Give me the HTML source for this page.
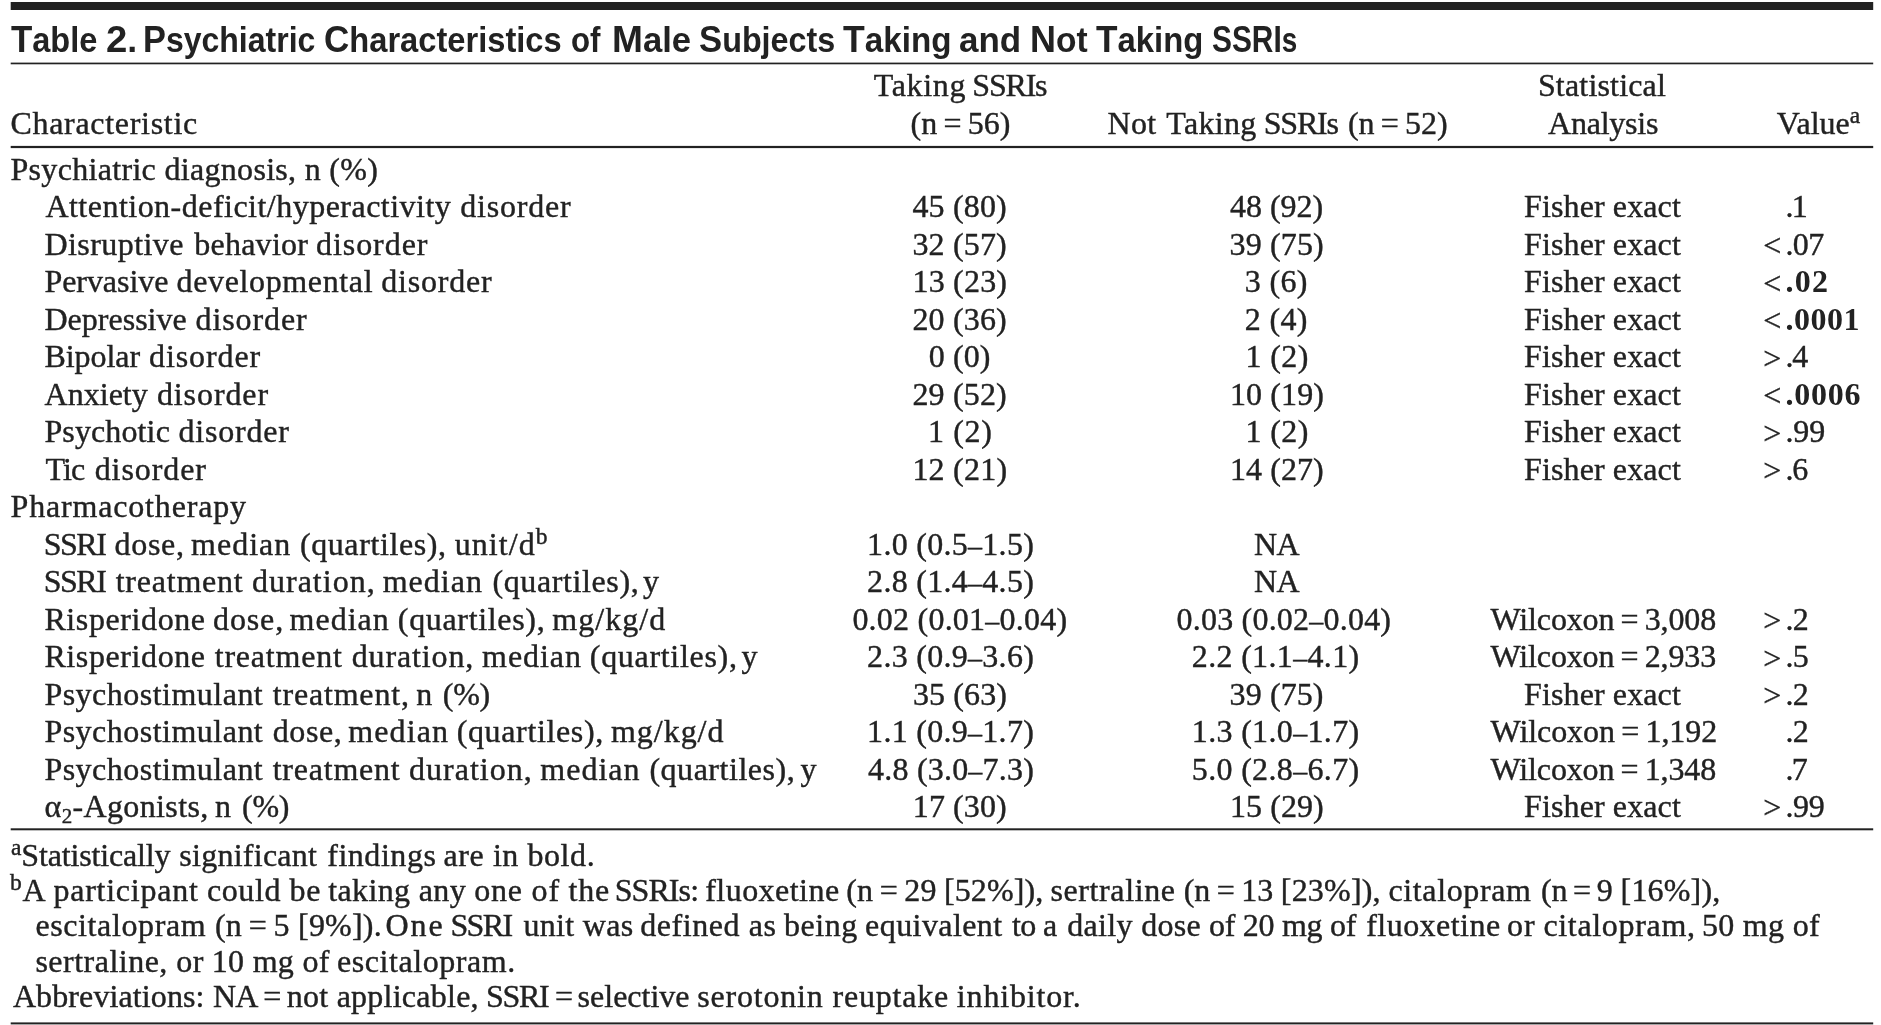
<!DOCTYPE html>
<html lang="en"><head><meta charset="utf-8"><title>Table 2</title>
<style>
html,body{margin:0;padding:0;background:#fff;}
body{width:1881px;height:1025px;position:relative;overflow:hidden;color:#222;font-family:"Liberation Serif",serif;}
#w{position:absolute;left:0;top:0;width:1881px;height:1025px;will-change:transform;}
.i{position:absolute;white-space:nowrap;line-height:40px;height:40px;}
.b{font-size:32px;-webkit-text-stroke:0.4px currentColor;}
.bb{font-size:32px;font-weight:bold;}
.t{font-size-adjust:none;font-family:"Liberation Sans",sans-serif;font-weight:bold;font-size:34.5px;transform-origin:0 0;}
sup{font-size:23.5px;line-height:0;vertical-align:baseline;position:relative;top:-11px;}
sub{font-size:21px;line-height:0;vertical-align:baseline;position:relative;top:6px;}
.d{font-size:28px;}
.c{font-size:37px;}
svg{position:absolute;left:0;top:0;}
</style></head>
<body>
<svg width="1881" height="1025" viewBox="0 0 1881 1025"><rect x="10.7" y="2.00" width="1862.5" height="8.00" fill="#222"/><rect x="10.7" y="62.60" width="1862.5" height="1.70" fill="#222"/><rect x="10.7" y="145.90" width="1862.5" height="2.20" fill="#222"/><rect x="10.7" y="828.30" width="1862.5" height="2.00" fill="#222"/><rect x="10.7" y="1022.40" width="1862.5" height="2.00" fill="#222"/></svg>
<div id="w">
<div class="i t" id="i0" style="left:11.40px;top:20.00px;letter-spacing:0.000px;transform:scaleX(0.9419);"><span class="c">T</span>able</div>
<div class="i t" id="i1" style="left:106.00px;top:20.00px;letter-spacing:0.000px;transform:scaleX(1.0354);"><span class="c">2</span>.</div>
<div class="i t" id="i2" style="left:143.20px;top:20.00px;letter-spacing:0.000px;transform:scaleX(0.9276);"><span class="c">P</span>sychiatric</div>
<div class="i t" id="i3" style="left:324.20px;top:20.00px;letter-spacing:0.000px;transform:scaleX(0.9464);"><span class="c">C</span>haracteristics</div>
<div class="i t" id="i4" style="left:571.30px;top:20.00px;letter-spacing:0.000px;transform:scaleX(0.9067);">of</div>
<div class="i t" id="i5" style="left:611.80px;top:20.00px;letter-spacing:0.000px;transform:scaleX(1.0026);"><span class="c">M</span>ale</div>
<div class="i t" id="i6" style="left:699.10px;top:20.00px;letter-spacing:0.000px;transform:scaleX(0.9370);"><span class="c">S</span>ubjects</div>
<div class="i t" id="i7" style="left:842.70px;top:20.00px;letter-spacing:0.000px;transform:scaleX(0.9622);"><span class="c">T</span>aking</div>
<div class="i t" id="i8" style="left:959.20px;top:20.00px;letter-spacing:0.000px;transform:scaleX(1.0129);">and</div>
<div class="i t" id="i9" style="left:1029.60px;top:20.00px;letter-spacing:0.000px;transform:scaleX(0.9720);"><span class="c">N</span>ot</div>
<div class="i t" id="i10" style="left:1095.90px;top:20.00px;letter-spacing:0.000px;transform:scaleX(0.9513);"><span class="c">T</span>aking</div>
<div class="i t" id="i11" style="left:1211.80px;top:20.00px;letter-spacing:0.000px;transform:scaleX(0.8078);"><span class="c">SSRI</span>s</div>
<div class="i b" id="i12" style="left:10.50px;top:103.41px;letter-spacing:0.692px;">Characteristic</div>
<div class="i b" id="i13" style="left:873.80px;top:65.00px;letter-spacing:0.640px;">Taking</div>
<div class="i b" id="i14" style="left:972.30px;top:65.00px;letter-spacing:-1.200px;">SSRIs</div>
<div class="i b" id="i15" style="left:910.50px;top:103.41px;letter-spacing:-0.029px;">(n = 56)</div>
<div class="i b" id="i16" style="left:1107.40px;top:103.41px;letter-spacing:0.400px;">Not</div>
<div class="i b" id="i17" style="left:1166.30px;top:103.41px;letter-spacing:0.320px;">Taking</div>
<div class="i b" id="i18" style="left:1263.70px;top:103.41px;letter-spacing:-1.200px;">SSRIs</div>
<div class="i b" id="i19" style="left:1347.90px;top:103.41px;letter-spacing:-0.057px;">(n = 52)</div>
<div class="i b" id="i20" style="left:1537.90px;top:65.00px;letter-spacing:0.180px;">Statistical</div>
<div class="i b" id="i21" style="left:1548.00px;top:103.41px;letter-spacing:-0.229px;">Analysis</div>
<div class="i b" id="i22" style="left:1776.80px;top:103.41px;letter-spacing:0.040px;">Value<sup>a</sup></div>
<div class="i b" id="i23" style="left:10.50px;top:149.00px;letter-spacing:0.311px;">Psychiatric diagnosis, n (%)</div>
<div class="i b" id="i24" style="left:45.40px;top:186.48px;letter-spacing:0.480px;">Attention-deficit/hyperactivity</div>
<div class="i b" id="i25" style="left:460.20px;top:186.48px;letter-spacing:0.800px;">disorder</div>
<div class="i b" id="i26" style="left:44.40px;top:223.95px;letter-spacing:0.444px;">Disruptive</div>
<div class="i b" id="i27" style="left:194.20px;top:223.95px;letter-spacing:0.257px;">behavior</div>
<div class="i b" id="i28" style="left:316.00px;top:223.95px;letter-spacing:0.943px;">disorder</div>
<div class="i b" id="i29" style="left:44.40px;top:261.42px;letter-spacing:-0.050px;">Pervasive</div>
<div class="i b" id="i30" style="left:176.60px;top:261.42px;letter-spacing:0.633px;">developmental</div>
<div class="i b" id="i31" style="left:381.20px;top:261.42px;letter-spacing:0.800px;">disorder</div>
<div class="i b" id="i32" style="left:44.40px;top:298.89px;letter-spacing:0.022px;">Depressive</div>
<div class="i b" id="i33" style="left:195.50px;top:298.89px;letter-spacing:0.914px;">disorder</div>
<div class="i b" id="i34" style="left:44.40px;top:336.36px;letter-spacing:-0.033px;">Bipolar</div>
<div class="i b" id="i35" style="left:149.00px;top:336.36px;letter-spacing:0.914px;">disorder</div>
<div class="i b" id="i36" style="left:44.50px;top:373.82px;letter-spacing:0.033px;">Anxiety</div>
<div class="i b" id="i37" style="left:156.90px;top:373.82px;letter-spacing:0.914px;">disorder</div>
<div class="i b" id="i38" style="left:44.40px;top:411.30px;letter-spacing:0.125px;">Psychotic</div>
<div class="i b" id="i39" style="left:178.40px;top:411.30px;letter-spacing:0.800px;">disorder</div>
<div class="i b" id="i40" style="left:45.40px;top:448.77px;letter-spacing:-0.800px;">Tic</div>
<div class="i b" id="i41" style="left:94.70px;top:448.77px;letter-spacing:0.914px;">disorder</div>
<div class="i b" id="i42" style="left:10.50px;top:486.24px;letter-spacing:0.829px;">Pharmacotherapy</div>
<div class="i b" id="i43" style="left:43.80px;top:523.70px;letter-spacing:-1.533px;">SSRI</div>
<div class="i b" id="i44" style="left:114.40px;top:523.70px;letter-spacing:0.750px;">dose,</div>
<div class="i b" id="i45" style="left:191.10px;top:523.70px;letter-spacing:1.000px;">median</div>
<div class="i b" id="i46" style="left:299.90px;top:523.70px;letter-spacing:0.600px;">(quartiles),</div>
<div class="i b" id="i47" style="left:454.80px;top:523.70px;letter-spacing:1.033px;">unit/d<sup>b</sup></div>
<div class="i b" id="i48" style="left:43.80px;top:561.17px;letter-spacing:-1.533px;">SSRI</div>
<div class="i b" id="i49" style="left:115.70px;top:561.17px;letter-spacing:0.775px;">treatment</div>
<div class="i b" id="i50" style="left:252.00px;top:561.17px;letter-spacing:1.000px;">duration,</div>
<div class="i b" id="i51" style="left:382.70px;top:561.17px;letter-spacing:1.000px;">median</div>
<div class="i b" id="i52" style="left:492.40px;top:561.17px;letter-spacing:0.618px;">(quartiles),</div>
<div class="i b" id="i53" style="left:643.00px;top:561.17px;letter-spacing:0.000px;">y</div>
<div class="i b" id="i54" style="left:44.40px;top:598.65px;letter-spacing:0.600px;">Risperidone</div>
<div class="i b" id="i55" style="left:213.10px;top:598.65px;letter-spacing:0.850px;">dose,</div>
<div class="i b" id="i56" style="left:289.60px;top:598.65px;letter-spacing:1.000px;">median</div>
<div class="i b" id="i57" style="left:397.80px;top:598.65px;letter-spacing:0.673px;">(quartiles),</div>
<div class="i b" id="i58" style="left:552.20px;top:598.65px;letter-spacing:1.067px;">mg/kg/d</div>
<div class="i b" id="i59" style="left:44.40px;top:636.11px;letter-spacing:0.600px;">Risperidone</div>
<div class="i b" id="i60" style="left:214.70px;top:636.11px;letter-spacing:0.800px;">treatment</div>
<div class="i b" id="i61" style="left:351.70px;top:636.11px;letter-spacing:0.875px;">duration,</div>
<div class="i b" id="i62" style="left:482.10px;top:636.11px;letter-spacing:0.920px;">median</div>
<div class="i b" id="i63" style="left:589.80px;top:636.11px;letter-spacing:0.691px;">(quartiles),</div>
<div class="i b" id="i64" style="left:741.50px;top:636.11px;letter-spacing:0.000px;">y</div>
<div class="i b" id="i65" style="left:44.40px;top:673.59px;letter-spacing:0.486px;">Psychostimulant</div>
<div class="i b" id="i66" style="left:272.70px;top:673.59px;letter-spacing:0.822px;">treatment,</div>
<div class="i b" id="i67" style="left:416.30px;top:673.59px;letter-spacing:0.000px;">n</div>
<div class="i b" id="i68" style="left:442.80px;top:673.59px;letter-spacing:-0.300px;">(%)</div>
<div class="i b" id="i69" style="left:44.40px;top:711.05px;letter-spacing:0.486px;">Psychostimulant</div>
<div class="i b" id="i70" style="left:272.70px;top:711.05px;letter-spacing:0.600px;">dose,</div>
<div class="i b" id="i71" style="left:348.20px;top:711.05px;letter-spacing:1.120px;">median</div>
<div class="i b" id="i72" style="left:456.70px;top:711.05px;letter-spacing:0.636px;">(quartiles),</div>
<div class="i b" id="i73" style="left:611.00px;top:711.05px;letter-spacing:0.967px;">mg/kg/d</div>
<div class="i b" id="i74" style="left:44.40px;top:748.53px;letter-spacing:0.486px;">Psychostimulant</div>
<div class="i b" id="i75" style="left:272.70px;top:748.53px;letter-spacing:0.775px;">treatment</div>
<div class="i b" id="i76" style="left:409.10px;top:748.53px;letter-spacing:1.000px;">duration,</div>
<div class="i b" id="i77" style="left:540.30px;top:748.53px;letter-spacing:1.000px;">median</div>
<div class="i b" id="i78" style="left:649.40px;top:748.53px;letter-spacing:0.527px;">(quartiles),</div>
<div class="i b" id="i79" style="left:800.50px;top:748.53px;letter-spacing:0.000px;">y</div>
<div class="i b" id="i80" style="left:44.50px;top:785.99px;letter-spacing:0.364px;">α<sub>2</sub>-Agonists,</div>
<div class="i b" id="i81" style="left:214.90px;top:785.99px;letter-spacing:0.000px;">n</div>
<div class="i b" id="i82" style="left:242.10px;top:785.99px;letter-spacing:-0.300px;">(%)</div>
<div class="i b" id="i83" style="left:912.40px;top:186.48px;letter-spacing:0.167px;">45 (80)</div>
<div class="i b" id="i84" style="left:912.40px;top:223.95px;letter-spacing:0.167px;">32 (57)</div>
<div class="i b" id="i85" style="left:912.50px;top:261.42px;letter-spacing:0.200px;">13 (23)</div>
<div class="i b" id="i86" style="left:912.40px;top:298.89px;letter-spacing:0.167px;">20 (36)</div>
<div class="i b" id="i87" style="left:928.80px;top:336.36px;letter-spacing:0.100px;">0 (0)</div>
<div class="i b" id="i88" style="left:912.40px;top:373.82px;letter-spacing:0.167px;">29 (52)</div>
<div class="i b" id="i89" style="left:927.90px;top:411.30px;letter-spacing:0.650px;">1 (2)</div>
<div class="i b" id="i90" style="left:912.40px;top:448.77px;letter-spacing:0.233px;">12 (21)</div>
<div class="i b" id="i91" style="left:867.10px;top:523.70px;letter-spacing:0.283px;">1.0 (0.5<span class="d">–</span>1.5)</div>
<div class="i b" id="i92" style="left:867.10px;top:561.17px;letter-spacing:0.283px;">2.8 (1.4<span class="d">–</span>4.5)</div>
<div class="i b" id="i93" style="left:852.40px;top:598.65px;letter-spacing:0.227px;">0.02 (0.01<span class="d">–</span>0.04)</div>
<div class="i b" id="i94" style="left:867.10px;top:636.11px;letter-spacing:0.283px;">2.3 (0.9<span class="d">–</span>3.6)</div>
<div class="i b" id="i95" style="left:912.90px;top:673.59px;letter-spacing:0.133px;">35 (63)</div>
<div class="i b" id="i96" style="left:867.10px;top:711.05px;letter-spacing:0.283px;">1.1 (0.9<span class="d">–</span>1.7)</div>
<div class="i b" id="i97" style="left:868.10px;top:748.53px;letter-spacing:0.200px;">4.8 (3.0<span class="d">–</span>7.3)</div>
<div class="i b" id="i98" style="left:912.80px;top:785.99px;letter-spacing:0.100px;">17 (30)</div>
<div class="i b" id="i99" style="left:1230.10px;top:186.48px;letter-spacing:-0.033px;">48 (92)</div>
<div class="i b" id="i100" style="left:1229.60px;top:223.95px;letter-spacing:0.133px;">39 (75)</div>
<div class="i b" id="i101" style="left:1244.70px;top:261.42px;letter-spacing:0.350px;">3 (6)</div>
<div class="i b" id="i102" style="left:1244.70px;top:298.89px;letter-spacing:0.350px;">2 (4)</div>
<div class="i b" id="i103" style="left:1245.50px;top:336.36px;letter-spacing:0.400px;">1 (2)</div>
<div class="i b" id="i104" style="left:1230.00px;top:373.82px;letter-spacing:0.100px;">10 (19)</div>
<div class="i b" id="i105" style="left:1245.50px;top:411.30px;letter-spacing:0.400px;">1 (2)</div>
<div class="i b" id="i106" style="left:1230.00px;top:448.77px;letter-spacing:0.067px;">14 (27)</div>
<div class="i b" id="i107" style="left:1253.90px;top:523.70px;letter-spacing:-0.600px;">NA</div>
<div class="i b" id="i108" style="left:1253.90px;top:561.17px;letter-spacing:-0.600px;">NA</div>
<div class="i b" id="i109" style="left:1176.50px;top:598.65px;letter-spacing:0.213px;">0.03 (0.02<span class="d">–</span>0.04)</div>
<div class="i b" id="i110" style="left:1191.80px;top:636.11px;letter-spacing:0.333px;">2.2 (1.1<span class="d">–</span>4.1)</div>
<div class="i b" id="i111" style="left:1229.60px;top:673.59px;letter-spacing:0.100px;">39 (75)</div>
<div class="i b" id="i112" style="left:1191.80px;top:711.05px;letter-spacing:0.333px;">1.3 (1.0<span class="d">–</span>1.7)</div>
<div class="i b" id="i113" style="left:1191.80px;top:748.53px;letter-spacing:0.333px;">5.0 (2.8<span class="d">–</span>6.7)</div>
<div class="i b" id="i114" style="left:1230.00px;top:785.99px;letter-spacing:0.067px;">15 (29)</div>
<div class="i b" id="i115" style="left:1524.10px;top:186.48px;letter-spacing:0.109px;">Fisher exact</div>
<div class="i b" id="i116" style="left:1524.10px;top:223.95px;letter-spacing:0.109px;">Fisher exact</div>
<div class="i b" id="i117" style="left:1524.10px;top:261.42px;letter-spacing:0.109px;">Fisher exact</div>
<div class="i b" id="i118" style="left:1524.10px;top:298.89px;letter-spacing:0.109px;">Fisher exact</div>
<div class="i b" id="i119" style="left:1524.10px;top:336.36px;letter-spacing:0.109px;">Fisher exact</div>
<div class="i b" id="i120" style="left:1524.10px;top:373.82px;letter-spacing:0.109px;">Fisher exact</div>
<div class="i b" id="i121" style="left:1524.10px;top:411.30px;letter-spacing:0.109px;">Fisher exact</div>
<div class="i b" id="i122" style="left:1524.10px;top:448.77px;letter-spacing:0.109px;">Fisher exact</div>
<div class="i b" id="i123" style="left:1490.60px;top:598.65px;letter-spacing:-0.147px;">Wilcoxon = 3,008</div>
<div class="i b" id="i124" style="left:1490.60px;top:636.11px;letter-spacing:-0.147px;">Wilcoxon = 2,933</div>
<div class="i b" id="i125" style="left:1524.10px;top:673.59px;letter-spacing:0.109px;">Fisher exact</div>
<div class="i b" id="i126" style="left:1490.60px;top:711.05px;letter-spacing:-0.080px;">Wilcoxon = 1,192</div>
<div class="i b" id="i127" style="left:1490.60px;top:748.53px;letter-spacing:-0.147px;">Wilcoxon = 1,348</div>
<div class="i b" id="i128" style="left:1524.10px;top:785.99px;letter-spacing:0.109px;">Fisher exact</div>
<div class="i b" id="i129" style="left:1785.40px;top:186.48px;letter-spacing:-1.600px;">.1</div>
<div class="i b" id="i130" style="left:1763.30px;top:225.45px;letter-spacing:0.000px;">&lt;</div>
<div class="i b" id="i131" style="left:1785.40px;top:223.95px;letter-spacing:-0.600px;">.07</div>
<div class="i b" id="i132" style="left:1763.30px;top:262.92px;letter-spacing:0.000px;">&lt;</div>
<div class="i bb" id="i133" style="left:1785.40px;top:261.42px;letter-spacing:1.300px;">.02</div>
<div class="i b" id="i134" style="left:1763.30px;top:300.39px;letter-spacing:0.000px;">&lt;</div>
<div class="i bb" id="i135" style="left:1785.40px;top:298.89px;letter-spacing:0.500px;">.0001</div>
<div class="i b" id="i136" style="left:1763.30px;top:337.86px;letter-spacing:0.000px;">&gt;</div>
<div class="i b" id="i137" style="left:1785.40px;top:336.36px;letter-spacing:-1.200px;">.4</div>
<div class="i b" id="i138" style="left:1763.30px;top:375.32px;letter-spacing:0.000px;">&lt;</div>
<div class="i bb" id="i139" style="left:1785.40px;top:373.82px;letter-spacing:0.750px;">.0006</div>
<div class="i b" id="i140" style="left:1763.30px;top:412.80px;letter-spacing:0.000px;">&gt;</div>
<div class="i b" id="i141" style="left:1785.40px;top:411.30px;letter-spacing:-0.100px;">.99</div>
<div class="i b" id="i142" style="left:1763.30px;top:450.27px;letter-spacing:0.000px;">&gt;</div>
<div class="i b" id="i143" style="left:1785.40px;top:448.77px;letter-spacing:-1.200px;">.6</div>
<div class="i b" id="i144" style="left:1763.30px;top:600.15px;letter-spacing:0.000px;">&gt;</div>
<div class="i b" id="i145" style="left:1785.40px;top:598.65px;letter-spacing:-0.600px;">.2</div>
<div class="i b" id="i146" style="left:1763.30px;top:637.61px;letter-spacing:0.000px;">&gt;</div>
<div class="i b" id="i147" style="left:1785.40px;top:636.11px;letter-spacing:-0.600px;">.5</div>
<div class="i b" id="i148" style="left:1763.30px;top:675.09px;letter-spacing:0.000px;">&gt;</div>
<div class="i b" id="i149" style="left:1785.40px;top:673.59px;letter-spacing:-0.600px;">.2</div>
<div class="i b" id="i150" style="left:1785.40px;top:711.05px;letter-spacing:-0.600px;">.2</div>
<div class="i b" id="i151" style="left:1785.40px;top:748.53px;letter-spacing:-1.600px;">.7</div>
<div class="i b" id="i152" style="left:1763.30px;top:787.49px;letter-spacing:0.000px;">&gt;</div>
<div class="i b" id="i153" style="left:1785.40px;top:785.99px;letter-spacing:-0.300px;">.99</div>
<div class="i b" id="i154" style="left:11.10px;top:834.80px;letter-spacing:-0.169px;"><sup>a</sup>Statistically</div>
<div class="i b" id="i155" style="left:179.30px;top:834.80px;letter-spacing:0.260px;">significant</div>
<div class="i b" id="i156" style="left:327.20px;top:834.80px;letter-spacing:0.543px;">findings</div>
<div class="i b" id="i157" style="left:443.60px;top:834.80px;letter-spacing:0.564px;">are in bold.</div>
<div class="i b" id="i158" style="left:10.10px;top:870.11px;letter-spacing:0.754px;"><sup>b</sup>A participant</div>
<div class="i b" id="i159" style="left:206.90px;top:870.11px;letter-spacing:0.600px;">could be</div>
<div class="i b" id="i160" style="left:328.30px;top:870.11px;letter-spacing:0.356px;">taking any</div>
<div class="i b" id="i161" style="left:474.30px;top:870.11px;letter-spacing:0.778px;">one of the</div>
<div class="i b" id="i162" style="left:614.70px;top:870.11px;letter-spacing:-0.920px;">SSRIs:</div>
<div class="i b" id="i163" style="left:705.20px;top:870.11px;letter-spacing:0.467px;">fluoxetine</div>
<div class="i b" id="i164" style="left:846.30px;top:870.11px;letter-spacing:0.100px;">(n = 29</div>
<div class="i b" id="i165" style="left:943.90px;top:870.11px;letter-spacing:0.133px;">[52%]),</div>
<div class="i b" id="i166" style="left:1050.50px;top:870.11px;letter-spacing:0.600px;">sertraline</div>
<div class="i b" id="i167" style="left:1183.70px;top:870.11px;letter-spacing:0.000px;">(n = 13</div>
<div class="i b" id="i168" style="left:1280.80px;top:870.11px;letter-spacing:0.200px;">[23%]),</div>
<div class="i b" id="i169" style="left:1388.40px;top:870.11px;letter-spacing:0.644px;">citalopram</div>
<div class="i b" id="i170" style="left:1541.10px;top:870.11px;letter-spacing:-0.360px;">(n = 9</div>
<div class="i b" id="i171" style="left:1620.60px;top:870.11px;letter-spacing:0.167px;">[16%]),</div>
<div class="i b" id="i172" style="left:35.40px;top:905.30px;letter-spacing:0.618px;">escitalopram</div>
<div class="i b" id="i173" style="left:215.00px;top:905.30px;letter-spacing:0.217px;">(n = 5 [9%]).</div>
<div class="i b" id="i174" style="left:385.60px;top:905.30px;letter-spacing:1.900px;">One</div>
<div class="i b" id="i175" style="left:450.40px;top:905.30px;letter-spacing:-1.600px;">SSRI</div>
<div class="i b" id="i176" style="left:523.40px;top:905.30px;letter-spacing:0.314px;">unit was</div>
<div class="i b" id="i177" style="left:640.30px;top:905.30px;letter-spacing:0.556px;">defined as</div>
<div class="i b" id="i178" style="left:784.10px;top:905.30px;letter-spacing:0.500px;">being</div>
<div class="i b" id="i179" style="left:865.10px;top:905.30px;letter-spacing:0.422px;">equivalent</div>
<div class="i b" id="i180" style="left:1012.00px;top:905.30px;letter-spacing:-0.600px;">to a</div>
<div class="i b" id="i181" style="left:1067.30px;top:905.30px;letter-spacing:0.311px;">daily dose</div>
<div class="i b" id="i182" style="left:1208.90px;top:905.30px;letter-spacing:-0.260px;">of 20 mg of</div>
<div class="i b" id="i183" style="left:1366.20px;top:905.30px;letter-spacing:0.467px;">fluoxetine</div>
<div class="i b" id="i184" style="left:1507.10px;top:905.30px;letter-spacing:1.000px;">or</div>
<div class="i b" id="i185" style="left:1543.40px;top:905.30px;letter-spacing:0.680px;">citalopram,</div>
<div class="i b" id="i186" style="left:1701.90px;top:905.30px;letter-spacing:0.314px;">50 mg of</div>
<div class="i b" id="i187" style="left:35.40px;top:940.70px;letter-spacing:0.492px;">sertraline, or</div>
<div class="i b" id="i188" style="left:211.80px;top:940.70px;letter-spacing:0.286px;">10 mg of</div>
<div class="i b" id="i189" style="left:337.10px;top:940.70px;letter-spacing:0.550px;">escitalopram.</div>
<div class="i b" id="i190" style="left:12.90px;top:976.30px;letter-spacing:0.108px;">Abbreviations:</div>
<div class="i b" id="i191" style="left:212.90px;top:976.30px;letter-spacing:-0.800px;">NA</div>
<div class="i b" id="i192" style="left:263.20px;top:976.30px;letter-spacing:0.000px;">=</div>
<div class="i b" id="i193" style="left:286.80px;top:976.30px;letter-spacing:0.243px;">not applicable,</div>
<div class="i b" id="i194" style="left:486.10px;top:976.30px;letter-spacing:-1.333px;">SSRI</div>
<div class="i b" id="i195" style="left:555.00px;top:976.30px;letter-spacing:0.000px;">=</div>
<div class="i b" id="i196" style="left:577.60px;top:976.30px;letter-spacing:0.000px;">selective</div>
<div class="i b" id="i197" style="left:697.30px;top:976.30px;letter-spacing:0.800px;">serotonin</div>
<div class="i b" id="i198" style="left:832.60px;top:976.30px;letter-spacing:0.771px;">reuptake</div>
<div class="i b" id="i199" style="left:956.80px;top:976.30px;letter-spacing:0.844px;">inhibitor.</div>
</div>
</body></html>
